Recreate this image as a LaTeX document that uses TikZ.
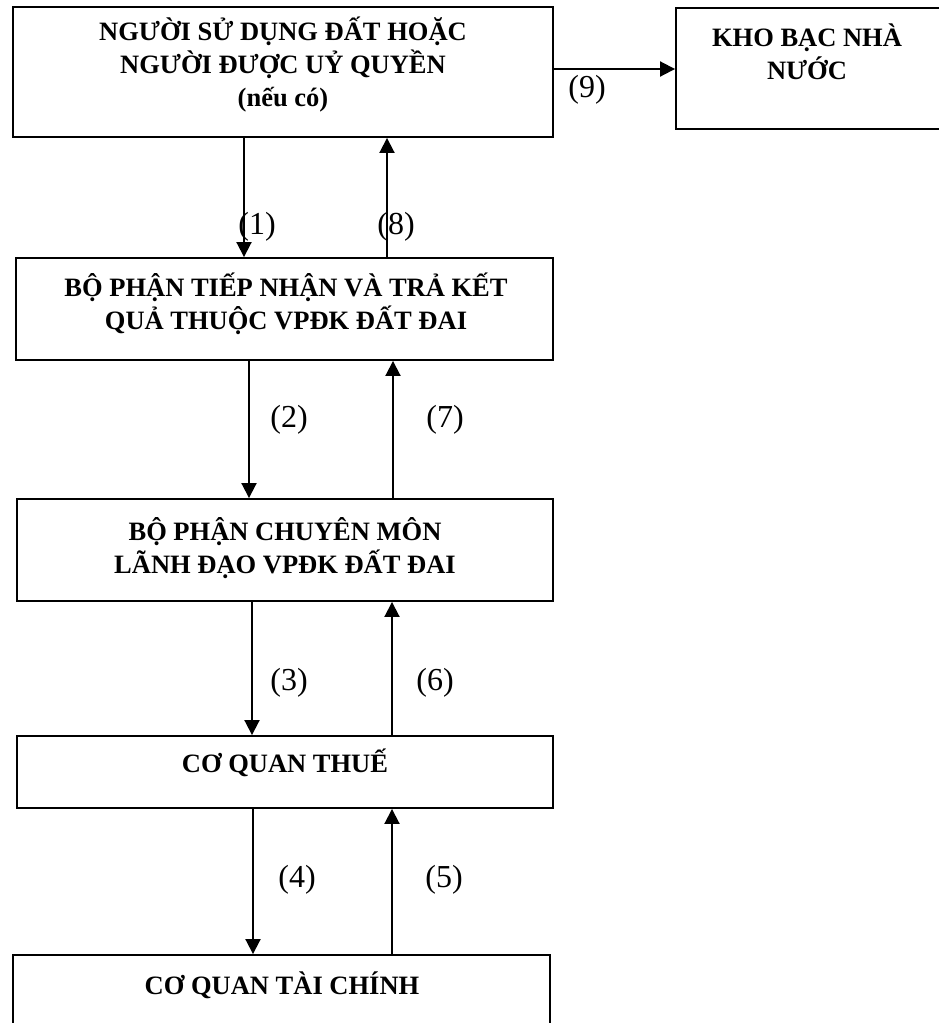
\documentclass[tikz,border=0pt]{standalone}
\usepackage{fontspec}
\setmainfont{Liberation Serif}
\usetikzlibrary{arrows.meta}
\begin{document}
\begin{tikzpicture}[x=1pt,y=-1pt,
  boxnode/.style={draw, line width=1.9pt, inner sep=0pt, rectangle},
  boxtext/.style={inner sep=0pt, align=center, font=\fontsize{26.5}{33}\selectfont\bfseries},
  numlabel/.style={inner sep=0pt, font=\fontsize{32}{36}\selectfont},
  arr/.style={line width=1.9pt, -{Triangle[length=15pt,width=15pt]}}]
\useasboundingbox (0,0) rectangle (938,1023);
% boxes
\node[boxnode, minimum width=540pt, minimum height=130pt] (b1) at (283,72) {};
\node[boxnode, minimum width=264pt, minimum height=121pt] (kb) at (808,68.5) {};
\node[boxnode, minimum width=537pt, minimum height=102pt] (b2) at (284.5,309) {};
\node[boxnode, minimum width=536pt, minimum height=102pt] (b3) at (285,550) {};
\node[boxnode, minimum width=536pt, minimum height=72pt] (b4) at (285,772) {};
\node[boxnode, minimum width=537pt, minimum height=90pt] (b5) at (281.5,1000) {};
% texts
\node[boxtext] (t1) at (283,65) {NGƯỜI SỬ DỤNG ĐẤT HOẶC\\NGƯỜI ĐƯỢC UỶ QUYỀN\\(nếu có)};
\node[boxtext] (tkb) at (807,52) {KHO BẠC NHÀ\\NƯỚC};
\node[boxtext] (t2) at (286,304) {BỘ PHẬN TIẾP NHẬN VÀ TRẢ KẾT\\QUẢ THUỘC VPĐK ĐẤT ĐAI};
\node[boxtext] (t3) at (285,548) {BỘ PHẬN CHUYÊN MÔN\\LÃNH ĐẠO VPĐK ĐẤT ĐAI};
\node[boxtext] (t4) at (285,763) {CƠ QUAN THUẾ};
\node[boxtext] (t5) at (282,985) {CƠ QUAN TÀI CHÍNH};
% x positions of connectors
\coordinate (c1) at (244,0);
\coordinate (c8) at (387,0);
\coordinate (c2) at (249,0);
\coordinate (c7) at (393,0);
\coordinate (c3) at (252,0);
\coordinate (c6) at (392,0);
\coordinate (c4) at (253,0);
\coordinate (c5) at (392,0);
\coordinate (c9) at (0,69);
% connectors
\draw[arr] (b1.south -| c1) -- (b2.north -| c1);
\draw[arr] (b2.north -| c8) -- (b1.south -| c8);
\draw[arr] (b2.south -| c2) -- (b3.north -| c2);
\draw[arr] (b3.north -| c7) -- (b2.south -| c7);
\draw[arr] (b3.south -| c3) -- (b4.north -| c3);
\draw[arr] (b4.north -| c6) -- (b3.south -| c6);
\draw[arr] (b4.south -| c4) -- (b5.north -| c4);
\draw[arr] (b5.north -| c5) -- (b4.south -| c5);
\draw[arr] (b1.east |- c9) -- (kb.west |- c9);
% labels
\node[numlabel] (l1) at (257,227) {(1)};
\node[numlabel] (l8) at (396,227) {(8)};
\node[numlabel] (l2) at (289,420) {(2)};
\node[numlabel] (l7) at (445,420) {(7)};
\node[numlabel] (l3) at (289,683) {(3)};
\node[numlabel] (l6) at (435,683) {(6)};
\node[numlabel] (l4) at (297,880) {(4)};
\node[numlabel] (l5) at (444,880) {(5)};
\node[numlabel] (l9) at (587,90) {(9)};
\end{tikzpicture}
\end{document}
